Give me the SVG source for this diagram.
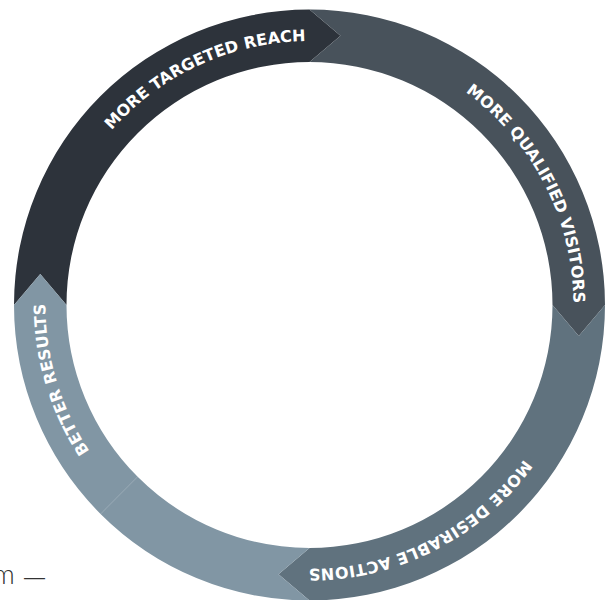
<svg xmlns="http://www.w3.org/2000/svg" width="613" height="600" viewBox="0 0 613 600">
  <style>
    .lbl { font-family: "DejaVu Sans", "Liberation Sans", sans-serif; font-weight: bold; font-size: 16px; fill: #ffffff; }
    .s1 { fill: #2d333b; }
    .s2 { fill: #48525b; }
    .s3 { fill: #60727e; }
    .s4 { fill: #8196a4; }
    .bg { font-family: Lato, "Liberation Sans", sans-serif; font-weight: 300; font-size: 27px; fill: #333333; }
    .dash { font-family: "Liberation Sans", sans-serif; font-weight: normal; font-size: 21px; }
  </style>
  <defs>
    <path id="arcA" d="M 46.63 280.61 A 264 264 0 0 1 462.05 89.54"/>
    <path id="arcB" d="M 322.86 41.34 A 264 264 0 0 1 531.16 448.40"/>
    <path id="arcC" d="M 573.15 318.59 A 264 264 0 0 1 165.90 526.53"/>
    <path id="arcD" d="M 248.54 561.87 A 264 264 0 0 1 117.47 123.83"/>
  </defs>
  <rect width="613" height="600" fill="#ffffff"/>
  <text class="bg" x="-7" y="584">m <tspan class="dash" x="24">—</tspan></text>
  <g id="node-targeted-reach">
    <path class="s1" d="M 14 305 L 40.25 274 L 66.5 305 A 243 243 0 0 1 309.5 62 L 340.5 35.75 L 309.5 9.5 A 295.5 295.5 0 0 0 14 305 Z"/>
    <text class="lbl" text-anchor="middle"><textPath href="#arcA" startOffset="50%" textLength="220" lengthAdjust="spacing">MORE TARGETED REACH</textPath></text>
  </g>
  <g id="node-qualified-visitors">
    <path class="s2" d="M 309.5 9.5 L 340.5 35.75 L 309.5 62 A 243 243 0 0 1 552.5 305 L 578.75 336 L 605 305 A 295.5 295.5 0 0 0 309.5 9.5 Z"/>
    <text class="lbl" text-anchor="middle"><textPath href="#arcB" startOffset="50%" textLength="246" lengthAdjust="spacing">MORE QUALIFIED VISITORS</textPath></text>
  </g>
  <g id="node-desirable-actions">
    <path class="s3" d="M 605 305 L 578.75 336 L 552.5 305 A 243 243 0 0 1 309.5 548 L 278.5 574.25 L 309.5 600.5 A 295.5 295.5 0 0 0 605 305 Z"/>
    <text class="lbl" text-anchor="middle"><textPath href="#arcC" startOffset="50%" textLength="251" lengthAdjust="spacing">MORE DESIRABLE ACTIONS</textPath></text>
  </g>
  <g id="node-better-results">
    <path class="s4" d="M 309.5 600.5 L 278.5 574.25 L 309.5 548 A 243 243 0 0 1 137.67 476.83 L 100.55 513.95 A 295.5 295.5 0 0 0 309.5 600.5 Z"/>
    <path class="s4" d="M 100.55 513.95 L 137.67 476.83 A 243 243 0 0 1 66.5 305 L 40.25 274 L 14 305 A 295.5 295.5 0 0 0 100.55 513.95 Z"/>
    <text class="lbl" text-anchor="middle"><textPath href="#arcD" startOffset="50%" textLength="156" lengthAdjust="spacing">BETTER RESULTS</textPath></text>
  </g>
</svg>
